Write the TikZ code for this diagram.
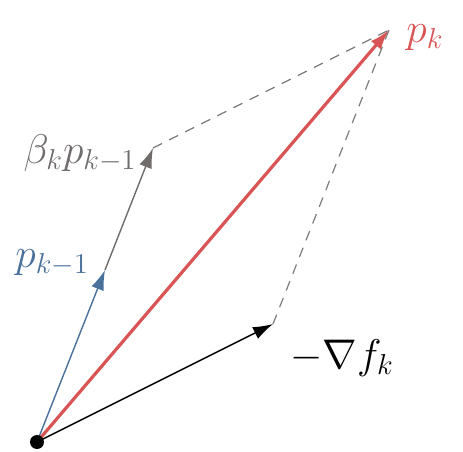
\documentclass[tikz,border=0pt]{standalone}
\usetikzlibrary{arrows.meta}
\definecolor{pkred}{RGB}{217,84,84}
\definecolor{pkblue}{RGB}{74,112,156}
\definecolor{pkgray}{RGB}{112,108,108}
\newcommand{\lbl}{\fontsize{22.5}{26}\selectfont}

\begin{document}
\begin{tikzpicture}[x=0.5pt,y=-0.5pt,
   vec/.style={-{Latex[length=10pt,width=6.5pt]}, line width=0.7pt},
   aux/.style={dashed, dash pattern=on 5pt off 4pt, pkgray!90, line width=0.6pt}]
   \useasboundingbox (0,0) rectangle (463,452);
   \coordinate (O) at (37,442);
   \coordinate (g) at (273,324);
   \coordinate (m) at (105,270);
   \coordinate (b) at (153,148);
   \coordinate (p) at (389,30);
   \draw[aux] (b) -- (p);
   \draw[aux] (g) -- (p);
   \draw[vec, pkgray] (m) -- (b);
   \draw[vec, pkblue] (O) -- (m);
   \draw[vec] (O) -- (g);
   \draw[vec, pkred, line width=1.6pt] (O) -- (p);
   \fill (O) circle(3.5pt);
   \node[anchor=base west, inner sep=0pt, pkred]  (lp) at (406,42)  {\lbl $p_k$};
   \node[anchor=base east, inner sep=0pt, pkgray] (lb) at (137,163) {\lbl $\beta_k p_{k-1}$};
   \node[anchor=base west, inner sep=0pt, pkblue] (lm) at (15,267)  {\lbl $p_{k-1}$};
   \node[anchor=base west, inner sep=0pt]         (lg) at (290,368) {\lbl $-\nabla f_k$};
\end{tikzpicture}
\end{document}
